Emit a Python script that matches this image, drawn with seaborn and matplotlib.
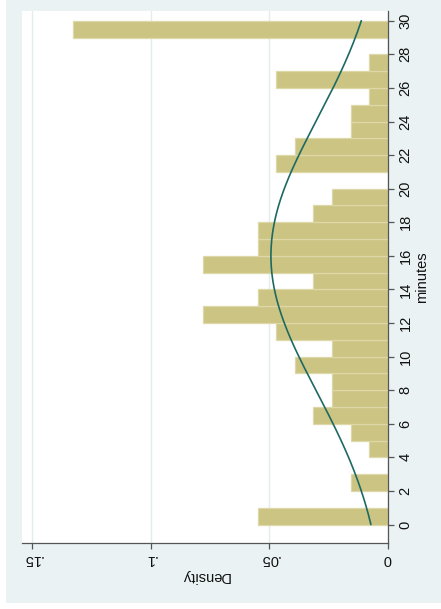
import numpy as np
import pandas as pd
import matplotlib
matplotlib.use("Agg")
import matplotlib.pyplot as plt
from matplotlib.patches import Rectangle
import seaborn as sns

# Histogram of minutes: unit-width bins starting at 0, heights are densities
bin_left = list(range(30))
density = [0.0547, 0.0, 0.0156, 0.0, 0.0078, 0.0156, 0.0313, 0.0234, 0.0234, 0.0391,
           0.0234, 0.0469, 0.0781, 0.0547, 0.0313, 0.0781, 0.0547, 0.0547, 0.0313, 0.0234,
           0.0, 0.0469, 0.0391, 0.0156, 0.0156, 0.0078, 0.0469, 0.0078, 0.0, 0.1328]

# Overlaid normal density
normal_mean = 16.0
normal_sd = 8.1

minute_ticks = list(range(0, 31, 2))
density_ticks = [0, 0.05, 0.1, 0.15]
density_labels = ["0", ".05", ".1", ".15"]

BAR = "#CCC482"
BAR_EDGE = "#DED8A8"
LINE = "#1E6A62"
REGION = "#EAF2F3"
GRID = "#E3ECEE"
AXIS = "#555555"
TEXT = "#111111"

sns.set_style("white")
plt.rcParams["font.family"] = ["Liberation Sans", "DejaVu Sans"]
plt.rcParams["text.color"] = TEXT
plt.rcParams["xtick.color"] = TEXT
plt.rcParams["ytick.color"] = TEXT
plt.rcParams["axes.labelcolor"] = TEXT

W, H = 441, 609
fig = plt.figure(figsize=(W / 100, H / 100), dpi=100, facecolor="white")
fig.patches.append(Rectangle((6 / W, 6 / H), 1 - 6 / W, 1 - 6 / H,
                             transform=fig.transFigure, facecolor=REGION,
                             edgecolor="none", zorder=-10))

left, right, bottom, top = 22, 387.5, 542.7, 11
ax = fig.add_axes([left / W, 1 - bottom / H, (right - left) / W, (bottom - top) / H])
ax.set_facecolor("white")

df = pd.DataFrame({"mid": [b + 0.5 for b in bin_left], "density": density})
edges = bin_left + [bin_left[-1] + 1]
sns.histplot(data=df, y="mid", weights="density", bins=edges, stat="count",
             color=BAR, edgecolor=BAR_EDGE, linewidth=0.9, alpha=1, ax=ax, zorder=2)

grid = np.linspace(0, 30, 300)
pdf = np.exp(-0.5 * ((grid - normal_mean) / normal_sd) ** 2) / (normal_sd * np.sqrt(2 * np.pi))
curve = pd.DataFrame({"minutes": grid, "pdf": pdf})
sns.lineplot(data=curve, x="pdf", y="minutes", orient="y", sort=False, estimator=None,
             color=LINE, linewidth=1.2, ax=ax, zorder=3)

ax.set_xlim(0.1544, 0)
ax.set_ylim(-1.08, 30.58)

ax.set_xticks(density_ticks)
ax.set_xticklabels(density_labels, rotation=180)
ax.set_yticks(minute_ticks)
ax.set_yticklabels([str(t) for t in minute_ticks], rotation=90, va="center")

ax.yaxis.tick_right()
ax.yaxis.set_label_position("right")
ax.tick_params(axis="x", direction="out", length=4, width=0.9, color=AXIS,
               labelsize=10.5, pad=3, bottom=True)
ax.tick_params(axis="y", direction="out", length=4, width=0.9, color=AXIS,
               labelsize=10.5, pad=4, right=True, left=False)

ax.set_xlabel("Density", fontsize=10.5, rotation=180, labelpad=2)
ax.set_ylabel("minutes", fontsize=10.5, rotation=90, labelpad=1.5)

for side in ("top", "left"):
    ax.spines[side].set_visible(False)
for side in ("bottom", "right"):
    ax.spines[side].set_color(AXIS)
    ax.spines[side].set_linewidth(0.9)

ax.grid(axis="x", color=GRID, linewidth=1.0)
ax.grid(axis="y", visible=False)
ax.set_axisbelow(True)

fig.savefig("out.png", dpi=100, facecolor="white")
